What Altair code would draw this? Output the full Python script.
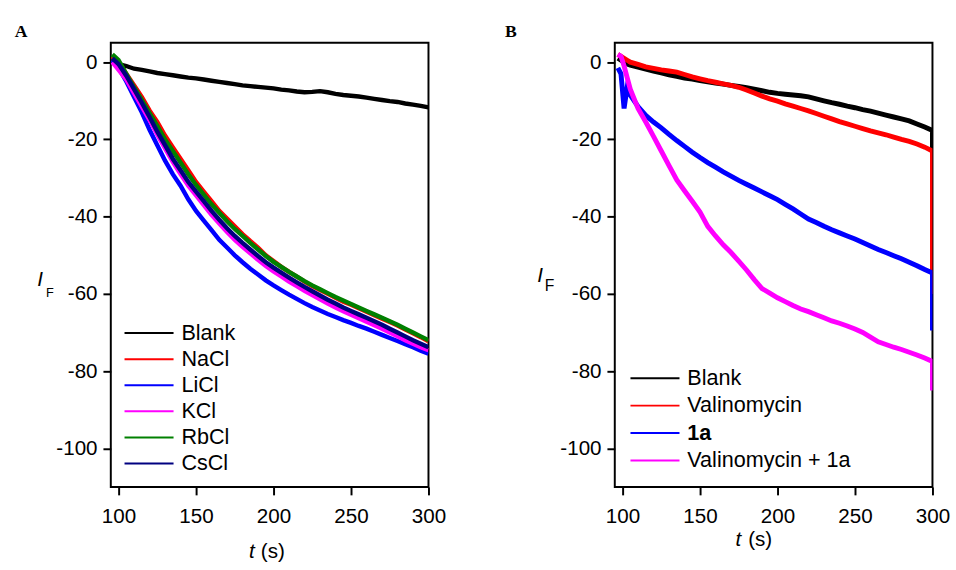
import altair as alt
import pandas as pd

FONT = "Liberation Sans"

# ---------------- Panel A: chloride salts ----------------
t_a = [96] + list(range(100, 301, 5))
names_a = ["Blank", "NaCl", "LiCl", "KCl", "RbCl", "CsCl"]
colors_a = ["#000000", "#ff0000", "#0000ff", "#ff00ff", "#008000", "#000080"]

blank_a = [0.5, -0.5, -1, -1.7, -2, -2.4, -2.8, -3.1, -3.4, -3.7, -4, -4.2, -4.5, -4.8, -5.1,
           -5.4, -5.7, -6, -6.2, -6.4, -6.6, -6.8, -7.1, -7.3, -7.6, -7.8, -7.7, -7.5, -7.8,
           -8.2, -8.5, -8.7, -8.9, -9.2, -9.5, -9.8, -10.1, -10.3, -10.7, -11, -11.3, -11.7]
nacl_a = [1.5, 0, -3, -6, -9, -12.5, -15.5, -19, -22, -25, -28, -31, -33.5, -36, -38.5, -40.5,
          -42.5, -44.5, -46.3, -48, -50, -51.5, -53, -54.3, -55.5, -56.8, -58, -59, -60, -61,
          -62, -62.8, -63.7, -64.6, -65.5, -66.4, -67.3, -68.2, -69.2, -70.2, -71.2, -72.3]
licl_a = [0.5, -1.5, -5, -9, -13, -17.5, -21.5, -25.5, -29, -32, -35.5, -38.5, -41, -43.5, -46,
          -48, -50, -51.8, -53.5, -55, -56.5, -57.8, -59, -60.2, -61.3, -62.4, -63.4, -64.3,
          -65.2, -66, -66.8, -67.5, -68.3, -69, -69.8, -70.6, -71.4, -72.2, -73, -73.8, -74.7, -75.5]
kcl_a = [0, -2, -4.5, -8, -11.5, -15, -18.8, -22.3, -25.8, -29, -32, -34.5, -37, -39.5, -41.8,
         -44, -46, -47.8, -49.5, -51.2, -52.8, -54.2, -55.5, -56.8, -58, -59.2, -60.3, -61.4,
         -62.5, -63.5, -64.5, -65.4, -66.3, -67.2, -68.1, -69, -70, -71, -72, -72.9, -73.8, -74.6]
rbcl_a = [2, 0.5, -3, -6.5, -9.8, -13.2, -16.5, -20, -23, -26, -29, -31.8, -34.3, -36.8, -39,
          -41.2, -43.2, -45, -46.8, -48.5, -50.2, -51.7, -53, -54.3, -55.5, -56.7, -57.8, -58.8,
          -59.8, -60.8, -61.7, -62.6, -63.5, -64.4, -65.3, -66.2, -67.1, -68, -69, -70, -71, -72]
cscl_a = [1, -0.5, -3.5, -7, -10.5, -14.2, -18, -21.5, -25, -28, -31, -33.5, -36, -38.5, -40.8,
          -43, -45, -46.8, -48.5, -50.2, -51.8, -53.2, -54.5, -55.8, -57, -58.2, -59.3, -60.4,
          -61.5, -62.5, -63.5, -64.4, -65.3, -66.2, -67.1, -68, -69, -70, -71, -72, -72.9, -73.8]
values_a = [blank_a, nacl_a, licl_a, kcl_a, rbcl_a, cscl_a]

# ---------------- Panel B: valinomycin / 1a ----------------
t_b = [97, 99, 101, 103] + list(range(105, 301, 5)) + [300]
names_b = ["Blank", "Valinomycin", "1a", "Valinomycin + 1a"]
colors_b = ["#000000", "#ff0000", "#0000ff", "#ff00ff"]

blank_b = [1, 0.5, 0, -0.5, -0.8, -1.3, -1.8, -2.3, -2.8, -3.3, -3.7, -4.1, -4.4, -4.8, -5.1,
           -5.4, -5.7, -6, -6.3, -6.6, -7, -7.4, -7.8, -8.1, -8.3, -8.5, -8.7, -9, -9.5, -10,
           -10.5, -10.9, -11.4, -11.8, -12.3, -12.7, -13.2, -13.7, -14.2, -14.7, -15.2, -16,
           -16.8, -17.7, -45]
valino_b = [2, 1.5, 1, 0.5, 0, -0.6, -1.2, -1.6, -2, -2.3, -2.6, -3.2, -3.8, -4.3, -4.8, -5.2,
            -5.6, -6, -6.5, -7.2, -8, -8.8, -9.5, -10.1, -10.8, -11.4, -12, -12.6, -13.3, -14,
            -14.7, -15.4, -16, -16.6, -17.2, -17.8, -18.3, -18.8, -19.4, -20, -20.5, -21.2,
            -22, -23, -60]
c1a_b = [-1.5, -3, -12, -6.5, -8.5, -11.5, -13.8, -15.5, -17, -18.7, -20.3, -21.8, -23.3, -24.7,
         -26, -27.2, -28.4, -29.5, -30.6, -31.6, -32.6, -33.6, -34.6, -35.6, -36.8, -38, -39.3,
         -40.6, -41.5, -42.5, -43.4, -44.2, -45, -45.8, -46.7, -47.6, -48.5, -49.3, -50.1,
         -50.9, -51.8, -52.7, -53.7, -54.6, -69.5]
both_b = [2, 1.5, -1, -4, -7, -12, -15.5, -19.2, -23, -26.8, -30.5, -33.3, -36, -38.8, -42.5,
          -45, -47.3, -49.3, -51.5, -53.8, -56.3, -58.6, -59.8, -61, -62, -63, -63.9, -64.6,
          -65.4, -66.2, -67, -67.6, -68.3, -69.1, -70, -71.2, -72.4, -73.1, -73.8, -74.4,
          -75.1, -75.8, -76.6, -77.5, -85]
values_b = [blank_b, valino_b, c1a_b, both_b]

x_ticks = [100, 150, 200, 250, 300]
y_ticks = [0, -20, -40, -60, -80, -100]


def long_table(ts, names, series):
    rows = []
    for name, vals in zip(names, series):
        for i, (t, v) in enumerate(zip(ts, vals)):
            rows.append({"series": name, "t": t, "v": v, "i": i})
    return pd.DataFrame(rows)


def txt(s, x, y, size, style="normal", weight="normal", font=FONT):
    return alt.Chart(pd.DataFrame({"s": [s]})).mark_text(
        align="left", baseline="alphabetic", font=font, fontSize=size,
        fontStyle=style, fontWeight=weight, color="black"
    ).encode(x=alt.value(x), y=alt.value(y), text="s:N")


def panel(df, names, colors, lw, leg_x, leg_y, row_pad, texts, bold_expr=None):
    axis_common = dict(title=None, grid=False, domain=False, ticks=True, tickSize=8,
                       tickWidth=2, tickColor="black", labelFont=FONT, labelFontSize=21,
                       labelColor="black", labelFlush=False, labelOverlap=False,
                       labelExpr="'' + datum.value")
    legend_kw = dict(orient="none", legendX=leg_x, legendY=leg_y, title=None,
                     symbolType="stroke", symbolSize=2500, symbolStrokeWidth=2,
                     labelFont=FONT, labelFontSize=22, labelColor="black",
                     labelOffset=7, rowPadding=row_pad, padding=0, labelLimit=400,
                     clipHeight=24)
    if bold_expr:
        legend_kw["labelFontWeight"] = {"expr": bold_expr}
    lines = alt.Chart(df).mark_line(strokeWidth=lw, clip=True).encode(
        x=alt.X("t:Q", scale=alt.Scale(domain=[95, 300], nice=False, zero=False),
                axis=alt.Axis(values=x_ticks, labelPadding=11, **axis_common)),
        y=alt.Y("v:Q", scale=alt.Scale(domain=[-110, 5], nice=False, zero=False),
                axis=alt.Axis(values=y_ticks, labelPadding=6, **axis_common)),
        color=alt.Color("series:N", scale=alt.Scale(domain=names, range=colors),
                        legend=alt.Legend(**legend_kw)),
        order=alt.Order("i:Q"),
    )
    return alt.layer(lines, *texts).properties(width=324, height=453)


df_a = long_table(t_a, names_a, values_a)
df_b = long_table(t_b, names_b, values_b)

texts_a = [
    txt("A", -98, -6, 18, weight="bold", font="Liberation Serif"),
    txt("I", -75, 248, 21, style="italic"),
    txt("F", -66, 259, 13),
    txt("t", 141, 525, 21, style="italic"),
    txt("(s)", 153, 525, 21),
]
texts_b = [
    txt("B", -112, -6, 18, weight="bold", font="Liberation Serif"),
    txt("I", -79, 244, 21, style="italic"),
    txt("F", -71.5, 253, 16),
    txt("t", 123, 513, 21, style="italic"),
    txt("(s)", 136, 513, 21),
]

panel_a = panel(df_a, names_a, colors_a, 4.5, 13, 284, 2.6, texts_a)
panel_b = panel(df_b, names_b, colors_b, 5, 15, 330, 4, texts_b,
                bold_expr="datum.label == '1a' ? 'bold' : 'normal'")

chart = alt.hconcat(panel_a, panel_b, spacing=58).resolve_scale(color="independent").configure_view(
    stroke="black", strokeWidth=2
).properties(
    padding={"left": 14, "top": 17, "right": 5, "bottom": 5},
    background="white",
)

chart.save("out.html", embed_options={"renderer": "svg", "actions": False})
